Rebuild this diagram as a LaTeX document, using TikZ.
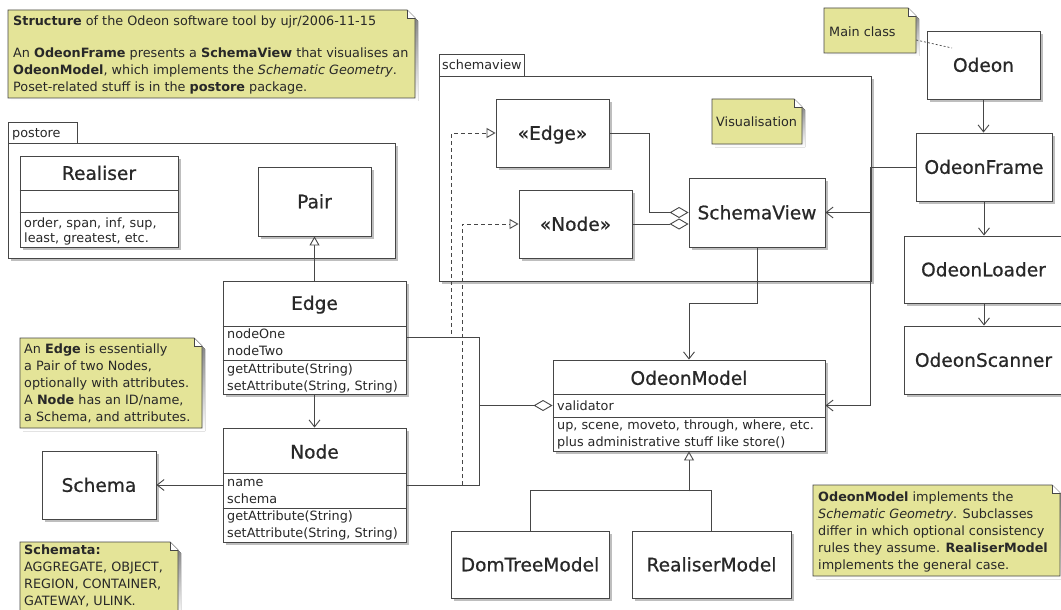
\documentclass[tikz,border=0pt]{standalone}
\usepackage{fontspec}
\setmainfont{DejaVu Sans}[BoldFont={DejaVu Sans Bold},ItalicFont={DejaVu Sans Oblique},BoldItalicFont={DejaVu Sans Bold Oblique}]
\newfontfamily\titlefont{DejaVu Sans}[FakeBold=0.7]
\usetikzlibrary{arrows.meta,shadows}

\definecolor{ink}{RGB}{40,40,40}
\definecolor{linec}{RGB}{70,70,70}
\definecolor{notefill}{RGB}{228,228,152}
\definecolor{shade}{RGB}{190,190,190}

\tikzset{
  shadowed/.style={drop shadow={shadow xshift=3pt,shadow yshift=-3pt,fill=shade,opacity=1}},
  cls/.style={draw=linec,fill=white,line width=0.9pt,inner sep=0pt,shadowed,
    font=\titlefont\fontsize{18.6}{22}\selectfont,text height=13.6pt,text depth=0pt},
  pkg/.style={draw=linec,fill=white,line width=0.9pt,inner sep=0pt},
  ttl/.style={inner sep=0pt,font=\titlefont\fontsize{18.6}{22}\selectfont,text height=13.6pt,text depth=0pt},
  txt/.style={inner sep=0pt,font=\fontsize{12.8}{17}\selectfont},
  conn/.style={draw=linec,line width=0.9pt},
  nav/.style={conn,-{Straight Barb[length=7pt,width=11pt]}},
  gen/.style={conn,-{Triangle[length=9pt,width=10pt,fill=white]}},
  aggr/.style={conn,-{Diamond[length=19pt,width=11pt,fill=white]}},
  real/.style={conn,dash pattern=on 4pt off 3pt,-{Triangle[length=9pt,width=10pt,fill=white]}},
  anchorline/.style={conn,line width=0.7pt,dash pattern=on 2pt off 2pt},
}

% box node from its corners: [style]{name}{x1}{y1}{x2}{y2}, followed by its text
\newcommand\boxat[6][]{\node[#1,minimum width={#5-#3},minimum height={#6-#4}] (#2) at ({(#3+#5)/2},{(#4+#6)/2})}
% one line of text, left aligned, by the vertical middle of the line
\newcommand\tline[4]{\node[txt,anchor=base west] (#1) at (#2,#3+4.5) {#4};}
% class name centred in a compartment
\newcommand\ttlat[4]{\node[ttl] (#1) at (#2,#3) {#4};}
% compartment divider of a class box
\newcommand\compsep[2]{\draw[conn] (#1.west |- 0,#2) -- (#1.east |- 0,#2);}
% note with a folded corner: {name}{x1}{y1}{x2}{y2}
\newcommand\umlnote[5]{%
  \node[inner sep=0pt,minimum width={#4-#2},minimum height={#5-#3}] (#1) at ({(#2+#4)/2},{(#3+#5)/2}) {};
  \fill[shade] (#2+3,#3+3) -- (#4-5,#3+3) -- (#4+3,#3+11) -- (#4+3,#5+3) -- (#2+3,#5+3) -- cycle;
  \filldraw[fill=notefill,draw=linec,line width=0.9pt] (#2,#3) -- (#4-8,#3) -- (#4,#3+8) -- (#4,#5) -- (#2,#5) -- cycle;
  \filldraw[fill=white,draw=linec,line width=0.7pt] (#4-8,#3) -- (#4-8,#3+8) -- (#4,#3+8);
}

\begin{document}
\begin{tikzpicture}[x=1pt,y=-1pt,every node/.append style={text=ink}]
\fill[white] (0,0) rectangle (1061,610);
\useasboundingbox (0,0) rectangle (1061,610);

% ---------- packages ----------
\boxat[pkg]{postoretab}{8}{122}{77}{143} {};
\tline{postorelbl}{12}{133}{postore}
\boxat[pkg,shadowed]{postore}{8}{143}{395}{258} {};

\boxat[pkg]{svtab}{439}{54}{524}{76} {};
\tline{svlbl}{442}{65}{schemaview}
\boxat[pkg,shadowed]{schemaviewpkg}{439}{76}{871}{281} {};

% ---------- notes ----------
\umlnote{topnote}{8}{10}{415}{98}
\tline{tn1}{13}{21}{\textbf{Structure} of the Odeon software tool by ujr/2006-11-15}
\tline{tn2}{13}{53}{An \textbf{OdeonFrame} presents a \textbf{SchemaView} that visualises an}
\tline{tn3}{13}{70.5}{\textbf{OdeonModel}, which implements the \textit{Schematic Geometry}.}
\tline{tn4}{13}{87.5}{Poset-related stuff is in the \textbf{postore} package.}

\umlnote{leftnote}{20}{338}{202}{428}
\tline{ln1}{24}{349}{An \textbf{Edge} is essentially}
\tline{ln2}{24}{366}{a Pair of two Nodes,}
\tline{ln3}{24}{383}{optionally with attributes.}
\tline{ln4}{24}{400}{A \textbf{Node} has an ID/name,}
\tline{ln5}{24}{417}{a Schema, and attributes.}

\umlnote{schnote}{20}{542}{178}{614}
\tline{sn1}{24}{550}{\textbf{Schemata:}}
\tline{sn2}{24}{567}{AGGREGATE, OBJECT,}
\tline{sn3}{24}{584}{REGION, CONTAINER,}
\tline{sn4}{24}{601}{GATEWAY, ULINK.}

\umlnote{visnote}{712}{99}{802}{144}
\tline{vn1}{716}{122}{Visualisation}

\umlnote{mainnote}{824}{8}{916}{53}
\tline{mn1}{829}{32}{Main class}

\umlnote{modelnote}{813}{485}{1060}{576}
\tline{mdn1}{818}{497}{\textbf{OdeonModel} implements the}
\tline{mdn2}{818}{514}{\textit{Schematic Geometry}. Subclasses}
\tline{mdn3}{818}{531}{differ in which optional consistency}
\tline{mdn4}{818}{548}{rules they assume. \textbf{RealiserModel}}
\tline{mdn5}{818}{565}{implements the general case.}

% ---------- postore classes ----------
\boxat[cls]{realiser}{20}{156}{178}{247} {};
\ttlat{realiserttl}{99}{173}{Realiser}
\compsep{realiser}{190}
\compsep{realiser}{212}
\tline{rl1}{24}{222.7}{order, span, inf, sup,}
\tline{rl2}{24}{238.3}{least, greatest, etc.}

\boxat[cls]{pair}{258}{167}{371}{236} {Pair};

% ---------- graph classes ----------
\boxat[cls]{edgecls}{223}{281}{406}{394} {};
\ttlat{edgettl}{314.5}{303}{Edge}
\compsep{edgecls}{326}
\compsep{edgecls}{360}
\tline{ea1}{227}{334}{nodeOne}
\tline{ea2}{227}{351}{nodeTwo}
\tline{eo1}{227}{368.5}{getAttribute(String)}
\tline{eo2}{227}{385.5}{setAttribute(String, String)}

\boxat[cls]{nodecls}{223}{428}{406}{542} {};
\ttlat{nodettl}{314.5}{451.7}{Node}
\compsep{nodecls}{473}
\compsep{nodecls}{508}
\tline{na1}{227}{482}{name}
\tline{na2}{227}{499}{schema}
\tline{no1}{227}{516}{getAttribute(String)}
\tline{no2}{227}{533}{setAttribute(String, String)}

\boxat[cls]{schema}{42}{451}{156}{519} {Schema};

% ---------- schemaview classes ----------
\boxat[cls]{sedge}{496}{99}{609}{167} {«Edge»};
\boxat[cls]{snode}{519}{190}{632}{258} {«Node»};
\boxat[cls]{sview}{689}{178}{825}{247} {SchemaView};

% ---------- model classes ----------
\boxat[cls]{model}{553}{360}{825}{451} {};
\ttlat{modelttl}{689}{378}{OdeonModel}
\compsep{model}{394}
\compsep{model}{417}
\tline{ma1}{557}{406}{validator}
\tline{mo1}{557}{425}{up, scene, moveto, through, where, etc.}
\tline{mo2}{557}{442}{plus administrative stuff like store()}

\boxat[cls]{dom}{451}{531}{609}{598} {DomTreeModel};
\boxat[cls]{realm}{632}{531}{791}{598} {RealiserModel};

% ---------- application classes ----------
\boxat[cls]{odeon}{927}{31}{1040}{99} {Odeon};
\boxat[cls]{frame}{916}{133}{1052}{201} {OdeonFrame};
\boxat[cls]{loader}{904}{236}{1063}{303} {OdeonLoader};
\boxat[cls]{scanner}{904}{326}{1063}{394} {OdeonScanner};

% ---------- relations ----------
\draw[gen] (edgecls.north) -- (pair.south);
\draw[nav] (edgecls.south) -- (nodecls.north);
\draw[nav] (nodecls.west) -- (schema.east);

% realisations of the view interfaces
\draw[real] (edgecls.east) -- ++(45,0) |- (sedge.west);
\draw[real] (nodecls.east) -- ++(56,0) |- (snode.west);

% the model aggregates edges and nodes
\coordinate (aggj) at (479,405.5);
\draw[conn] (edgecls.east) -| (aggj);
\draw[conn] (nodecls.east) -| (aggj);
\draw[aggr] (aggj) -- (model.west);

% the view aggregates its edges and nodes
\draw[aggr] (sedge.east) -- ++(40,0) |- (sview.west);
\draw[aggr] (snode.east) -- (snode.east -| sview.west);

\draw[nav] (sview.south) -- ++(0,56) -| (model.north);

% the frame holds the view and the model
\coordinate (framej) at (870,167);
\draw[conn] (frame.west) -- (framej);
\draw[nav] (framej) |- (sview.east);
\draw[nav] (framej) |- (model.east);

% application chain
\draw[nav] (odeon.south) -- (odeon.south |- frame.north);
\draw[nav] (frame.south) -- (frame.south |- loader.north);
\draw[nav] (frame.south |- loader.south) -- (frame.south |- scanner.north);

% subclasses of the model
\draw[conn] (dom.north) -- ++(0,-40) -| (realm.north);
\draw[gen] ([yshift=-40pt]model.south) -- (model.south);

% note anchor
\coordinate (odeonanchor) at (952,48);
\draw[anchorline] ([yshift=-9.5pt]mainnote.east) -- (odeonanchor);
\end{tikzpicture}
\end{document}
